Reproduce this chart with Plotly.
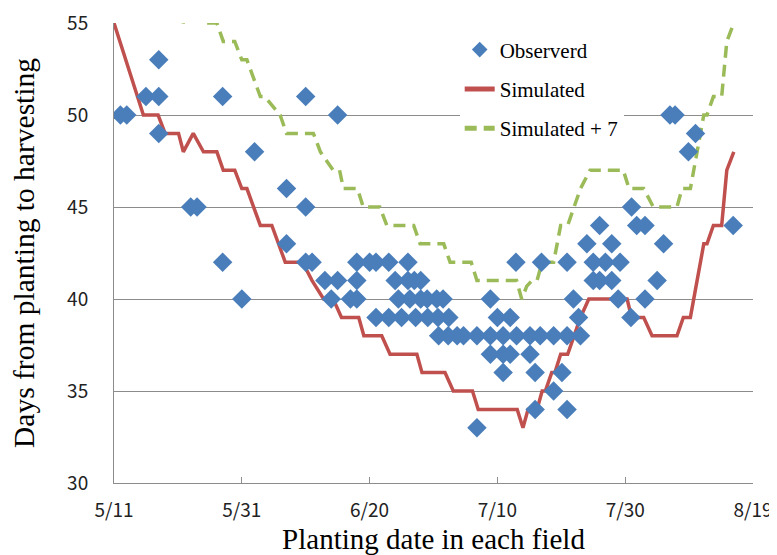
import plotly.graph_objects as go

# ---- data (x = days after 5/11) ----
tick_days = [0, 20, 40, 60, 80, 100]
tick_labels = ["5/11", "5/31", "6/20", "7/10", "7/30", "8/19"]

obs_day = [1, 2, 5, 7, 7, 7, 12, 13, 17, 17, 20, 22, 27, 27, 30, 30, 30, 31, 35,
           33, 35, 38, 34, 37, 38,
           38, 40, 41, 43, 46,
           44, 46, 47, 48,
           44.5, 46.3, 48, 49, 50.5, 51.5,
           41, 43, 45, 47.2, 49.1, 50.7, 52.4,
           50.8, 52.3, 53.7, 54.7, 56.8, 58.9, 60.9, 63.0, 65.1, 66.7, 68.8, 70.9, 73.0,
           58.9, 60.9, 62.0, 65.1,
           60.9, 65.9, 70.1,
           68.8,
           65.9, 70.9,
           56.8,
           58.9, 71.9, 78.9, 83.1,
           60.0, 62.0, 72.7, 80.9,
           62.9, 66.9, 70.9, 75.0, 76.9, 79.2,
           75.0, 76.0, 77.9, 85.0,
           74.0, 77.9, 86.0,
           76.0, 81.8, 83.1, 96.9,
           81.0,
           87.0, 87.8, 91.0, 89.9]
obs_val = [50, 50, 51, 51, 53, 49, 45, 45, 51, 42, 40, 48, 46, 43, 51, 45, 42, 42, 50,
           41, 41, 41, 40, 40, 40,
           42, 42, 42, 42, 42,
           41, 41, 41, 41,
           40, 40, 40, 40, 40, 40,
           39, 39, 39, 39, 39, 39, 39,
           38, 38, 38, 38, 38, 38, 38, 38, 38, 38, 38, 38, 38,
           37, 37, 37, 37,
           36, 36, 36,
           35,
           34, 34,
           33,
           40, 40, 40, 40,
           39, 39, 39, 39,
           42, 42, 42, 42, 42, 42,
           41, 41, 41, 41,
           43, 43, 43,
           44, 44, 44, 44,
           45,
           50, 50, 49, 48]

sim_day = [0, 4.6, 6.9, 8.0, 10.1, 10.85, 12.4, 14.0, 16.1, 17.1, 18.9, 20.0, 20.8,
           22.9, 24.7, 25.7, 26.8, 29.5, 31.0, 32.8, 34.3, 35.6, 38.3, 39.1, 41.9,
           43.2, 47.4, 48.2, 51.8, 53.1, 56.1, 57.0, 63.1, 64.0, 64.8, 66.2, 67.0,
           67.5, 68.5, 69.0, 69.9, 71.0, 72.0, 73.0, 74.3, 80.3, 81.0, 82.9, 84.2,
           88.1, 89.1, 90.2, 92.3, 92.8, 93.8, 95.1, 95.9, 97.0]
sim_val = [55, 50, 50, 49, 49, 48, 49, 48, 48, 47, 47, 46, 46,
           44, 44, 43, 42, 42, 41, 40, 40, 39, 39, 38, 38,
           37, 37, 36, 36, 35, 35, 34, 34, 33, 34, 34, 35,
           35, 36, 36, 37, 37, 38, 39, 40, 40, 39, 39, 38,
           38, 39, 39, 43, 43, 44, 44, 47, 48]

sim7_day = [0, 4.6, 6.9, 8.0, 10.1, 10.85, 12.4, 14.0, 16.1, 17.1, 18.9, 20.0, 20.8,
            22.9, 23.6, 26.0, 27.0, 31.2, 32.3, 34.3, 35.3, 35.9, 38.1, 39.0, 41.6,
            42.7, 46.9, 47.9, 51.6, 52.6, 55.9, 56.8, 63.0, 63.8, 64.6, 65.4, 66.2,
            67.0, 68.8, 69.9, 71.0, 72.0, 73.0, 74.5, 79.7, 80.6, 82.9, 84.4, 88.1,
            88.9, 90.2, 92.3, 92.8, 93.8, 95.1, 95.9, 97.0]
sim7_val = [62, 57, 57, 56, 56, 55, 56, 55, 55, 54, 54, 53, 53,
            51, 51, 50, 49, 49, 48, 47, 47, 46, 46, 45, 45,
            44, 44, 43, 43, 42, 42, 41, 41, 40, 40.7, 41, 41,
            42, 42, 44, 44, 45, 46, 47, 47, 46, 46, 45, 45,
            46, 46, 50, 50, 51, 51, 54, 55]

# ---- figure ----
serif = "Liberation Serif, Times New Roman, serif"
tickfont = dict(family="Noto Sans CJK JP, sans-serif", size=19, color="#222222")

fig = go.Figure()
fig.add_trace(go.Scatter(x=sim_day, y=sim_val, mode="lines", name="Simulated",
                         line=dict(color="#C0504D", width=3.5),
                         legendgroup="b", legendrank=2))
fig.add_trace(go.Scatter(x=sim7_day, y=sim7_val, mode="lines", name="Simulated + 7",
                         line=dict(color="#9BBB59", width=3.5, dash="12px,7px"),
                         legendgroup="c", legendrank=3))
fig.add_trace(go.Scatter(x=obs_day, y=obs_val, mode="markers", name="Observerd",
                         marker=dict(symbol="diamond", size=15, color="#4A7EBB"),
                         legendgroup="a", legendrank=1))

fig.update_layout(
    width=769, height=547,
    margin=dict(l=106, r=24, t=15, b=72),
    paper_bgcolor="white", plot_bgcolor="white",
    showlegend=True,
    legend=dict(x=0.541, y=0.986, xanchor="left", yanchor="top",
                font=dict(family=serif, size=21, color="black"),
                bgcolor="white", tracegroupgap=9, itemsizing="constant"),
    xaxis=dict(range=[0, 100], tickvals=tick_days, ticktext=tick_labels,
               showgrid=False, zeroline=False, showline=True, automargin=False,
               linecolor="#8C8C8C", linewidth=1, ticks="inside", ticklen=6,
               tickcolor="#8C8C8C", tickfont=tickfont, ticklabelstandoff=10,
               ticklabeloverflow="allow",
               title=dict(text="Planting date in each field",
                          font=dict(family=serif, size=29, color="black"),
                          standoff=8)),
    yaxis=dict(range=[30, 55.001], tickvals=[30, 35, 40, 45, 50, 55],
               showgrid=True, gridcolor="#8C8C8C", gridwidth=1, zeroline=False,
               showline=True, linecolor="#8C8C8C", linewidth=1, ticks="",
               automargin=False, ticklabeloverflow="allow",
               tickfont=tickfont, ticklabelstandoff=21,
               title=dict(text="Days from planting to harvesting",
                          font=dict(family=serif, size=29.5, color="black"),
                          standoff=26)),
)

fig.write_html("out.html")
